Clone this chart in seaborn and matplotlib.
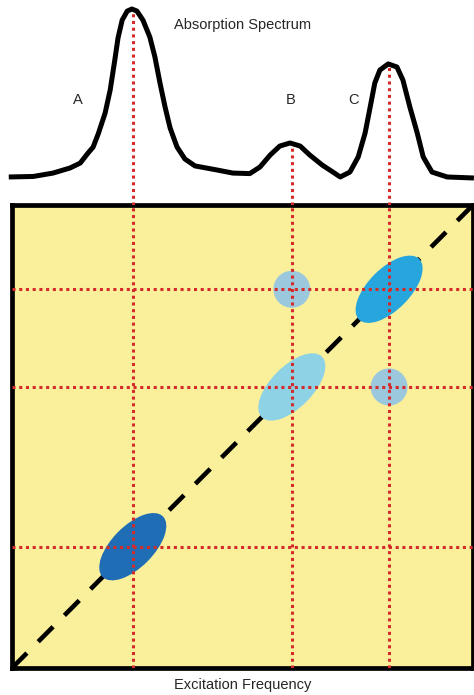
import numpy as np
import seaborn as sns
import matplotlib
matplotlib.use("Agg")
import matplotlib.pyplot as plt
from matplotlib.patches import Ellipse, Circle

# espectro de absorcion (frecuencia 0..1, absorbancia 0..1)
freq = [-0.007, 0.046, 0.089, 0.126, 0.148, 0.165, 0.176, 0.187, 0.202, 0.213,
        0.223, 0.230, 0.239, 0.250, 0.260, 0.271, 0.284, 0.299, 0.310, 0.321,
        0.332, 0.343, 0.358, 0.375, 0.397, 0.445, 0.479, 0.516, 0.538, 0.560,
        0.581, 0.603, 0.625, 0.646, 0.673, 0.696, 0.712, 0.733, 0.751, 0.766,
        0.777, 0.787, 0.798, 0.816, 0.835, 0.848, 0.863, 0.879, 0.892, 0.911,
        0.944, 1.002]
absorb = [0.006, 0.009, 0.029, 0.059, 0.088, 0.147, 0.182, 0.259, 0.382, 0.518,
          0.694, 0.824, 0.929, 0.982, 0.994, 0.982, 0.929, 0.829, 0.712, 0.559,
          0.418, 0.294, 0.182, 0.112, 0.071, 0.047, 0.029, 0.026, 0.065, 0.135,
          0.188, 0.206, 0.188, 0.135, 0.076, 0.035, 0.006, 0.035, 0.124, 0.265,
          0.418, 0.559, 0.635, 0.671, 0.653, 0.576, 0.418, 0.265, 0.124, 0.035,
          0.006, 0.000]

peak_labels = ["A", "B", "C"]
peak_pos = [0.262, 0.607, 0.818]
peak_height = [0.994, 0.206, 0.671]
label_x = [0.143, 0.605, 0.740]
diag_colors = ["#1F6DB4", "#8ED2E6", "#27A6DE"]
# picos cruzados (x, y)
cross_x = [0.607, 0.818]
cross_y = [0.818, 0.607]
cross_color = "#9CC8DE"

RED = "#D42A2A"
YELLOW = "#FAF09B"

sns.set_theme(style="white")
plt.rcParams["font.family"] = ["Liberation Sans", "DejaVu Sans"]

W, H = 474, 695
fig = plt.figure(figsize=(W / 100, H / 100), dpi=100)

# caja 2D en pixeles x 12..473, y 205..668
bx0, bx1, by0, by1 = 12, 473, 205, 668
ax = fig.add_axes([bx0 / W, (H - by1) / H, (bx1 - bx0) / W, (by1 - by0) / H])
ax_top = fig.add_axes([0, (H - by0) / H, 1, by0 / H])

# ---- espectro arriba ----
xw = bx1 - bx0
ax_top.set_xlim((0 - bx0) / xw, (W - bx0) / xw)
ax_top.set_ylim((178 - 205) / 170, 178 / 170)
sns.lineplot(x=freq, y=absorb, ax=ax_top, color="black", lw=3.6,
             estimator=None, sort=False, solid_joinstyle="round",
             solid_capstyle="butt", zorder=3)
ax_top.vlines(peak_pos, ax_top.get_ylim()[0], peak_height, color=RED,
              lw=2.2, linestyles=[(0, (1, 1.2))], zorder=2)
ax_top.text(0.5, 0.90, "Absorption Spectrum", ha="center", va="center", fontsize=10.5)
for lab, lx in zip(peak_labels, label_x):
    ax_top.text(lx, 0.46, lab, ha="center", va="center", fontsize=10.5)
ax_top.axis("off")

# ---- espectro 2D ----
ax.set_facecolor(YELLOW)
ax.set_xlim(0, 1)
ax.set_ylim(0, 1)
sns.lineplot(x=[0, 1], y=[0, 1], ax=ax, color="black", lw=3.3,
             linestyle=(0, (4.6, 3.5)), zorder=1)
for p, c in zip(peak_pos, diag_colors):
    ax.add_patch(Ellipse((p, p), 0.185, 0.09, angle=45, color=c, lw=0, zorder=2))
for cx, cy in zip(cross_x, cross_y):
    ax.add_patch(Circle((cx, cy), 0.040, color=cross_color, lw=0, zorder=2))
for p in peak_pos:
    ax.axvline(p, color=RED, lw=2.2, linestyle=(0, (1, 1.2)), zorder=3)
    ax.axhline(p, color=RED, lw=2.2, linestyle=(0, (1, 1.2)), zorder=3)

ax.set_xticks([])
ax.set_yticks([])
for s in ax.spines.values():
    s.set_visible(True)
    s.set_color("black")
    s.set_linewidth(3.4)
ax.set_xlabel("Excitation Frequency", fontsize=10.5, labelpad=7)

fig.savefig("out.png", dpi=100, facecolor="white")
